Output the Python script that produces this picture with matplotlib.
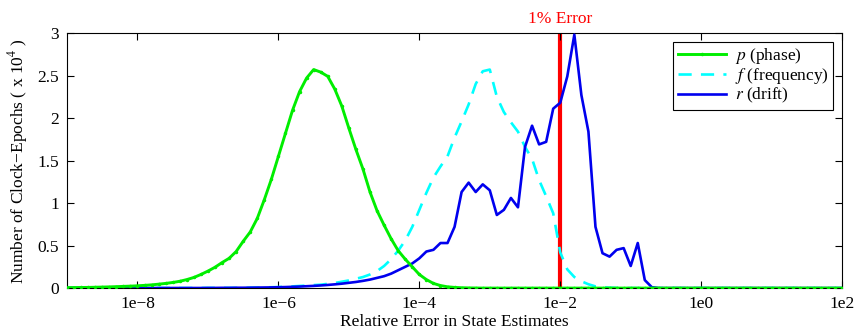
import numpy as np
import matplotlib
matplotlib.use("Agg")
import matplotlib.pyplot as plt

plt.rcParams['font.family'] = ['Liberation Serif', 'DejaVu Serif']
plt.rcParams['mathtext.fontset'] = 'stix'

# bin centres: 10 bins per decade from 1e-9 to 1e2
bins = np.logspace(-9, 2, 111)

# counts in units of 1e4 clock-epochs
phase = [0.005, 0.006, 0.007, 0.008, 0.01, 0.012, 0.014, 0.017, 0.02, 0.023,
         0.027, 0.032, 0.038, 0.046, 0.055, 0.066, 0.08, 0.1, 0.125, 0.16,
         0.2, 0.245, 0.3, 0.35, 0.43, 0.55, 0.66, 0.82, 1.04, 1.28,
         1.55, 1.82, 2.09, 2.31, 2.47, 2.57, 2.54, 2.49, 2.34, 2.14,
         1.88, 1.63, 1.40, 1.13, 0.91, 0.74, 0.58, 0.44, 0.34, 0.25,
         0.16, 0.10, 0.055, 0.03, 0.015, 0.008, 0.004, 0.002, 0.001, 0] + [0] * 51

freq = [0.001] * 20 + [0.002] * 6 + \
       [0.004, 0.005, 0.008, 0.01,
        0.012, 0.016, 0.02, 0.025, 0.03, 0.035, 0.04, 0.05, 0.06, 0.075,
        0.09, 0.11, 0.13, 0.16, 0.20, 0.26, 0.34, 0.44, 0.56, 0.72,
        0.92, 1.12, 1.30, 1.43, 1.55, 1.77, 1.96, 2.16, 2.40, 2.55,
        2.57, 2.25, 2.07, 1.95, 1.84, 1.66, 1.52, 1.27, 1.08, 0.88,
        0.42, 0.22, 0.13, 0.08, 0.045, 0.02, 0.01, 0.005, 0.002, 0.001] + [0] * 31

drift = [0.001] * 20 + \
        [0.002, 0.002, 0.003, 0.003, 0.004, 0.004, 0.005, 0.006, 0.007, 0.008,
         0.01, 0.012, 0.015, 0.018, 0.022, 0.026, 0.031, 0.037, 0.044, 0.052,
         0.062, 0.072, 0.085, 0.1, 0.12, 0.14, 0.17, 0.21, 0.25, 0.29,
         0.35, 0.43, 0.45, 0.53, 0.53, 0.72, 1.13, 1.24, 1.13, 1.22,
         1.15, 0.86, 0.92, 1.06, 0.95, 1.66, 1.91, 1.69, 1.72, 2.11,
         2.18, 2.49, 2.98, 2.27, 1.84, 0.72, 0.41, 0.37, 0.45, 0.47,
         0.26, 0.53, 0.094, 0.01, 0, 0, 0, 0, 0, 0] + [0] * 21

xticks = [1e-8, 1e-6, 1e-4, 1e-2, 1e0, 1e2]
xticklabels = ['1e\u22128', '1e\u22126', '1e\u22124', '1e\u22122', '1e0', '1e2']
yticks = [0, 0.5, 1, 1.5, 2, 2.5, 3]
yticklabels = ['0', '0.5', '1', '1.5', '2', '2.5', '3']

fig = plt.figure(figsize=(8.65, 3.3), dpi=100)
ax = fig.add_axes([0.0775, 0.127, 0.896, 0.773])

ax.axvline(1e-2, color='red', lw=3, zorder=1)
ax.plot(bins, drift, color='#0000ee', lw=1.9, label='$r$ (drift)', zorder=3)
ax.plot(bins, freq, color='cyan', lw=1.9, ls=(0, (5, 3.5)), label='$f$ (frequency)', zorder=2)
ax.plot(bins, phase, color='#00ee00', lw=2.1, marker='.', ms=3, label='$p$ (phase)', zorder=4)

ax.set_xscale('log')
ax.set_xlim(1e-9, 1e2)
ax.set_ylim(0, 3)
ax.set_xticks(xticks)
ax.set_xticklabels(xticklabels)
ax.minorticks_off()
ax.set_yticks(yticks)
ax.set_yticklabels(yticklabels)
ax.tick_params(direction='in', top=True, right=True, labelsize=12.5, length=5, pad=6)

ax.set_xlabel('Relative Error in State Estimates', fontsize=12.5, labelpad=1)
ax.set_ylabel('Number of Clock\u2212Epochs ( x 10$^4$ )', fontsize=12.5, labelpad=5)
ax.text(1e-2, 3.07, '1% Error', color='red', fontsize=12.5, ha='center', va='bottom')

h, l = ax.get_legend_handles_labels()
leg = ax.legend(h[::-1], l[::-1], loc='upper right', fontsize=12.5, fancybox=False,
                edgecolor='black', framealpha=1, handlelength=2.8, handletextpad=0.5,
                borderaxespad=0.5, labelspacing=0.0, borderpad=0.25)
leg.get_frame().set_linewidth(0.8)

fig.savefig('out.png', dpi=100)
